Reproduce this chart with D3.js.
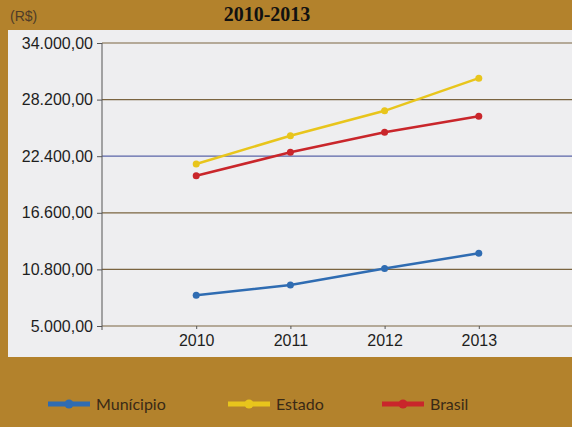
<!DOCTYPE html>
<html>
<head>
<meta charset="utf-8">
<script src="https://cdn.jsdelivr.net/npm/d3@7"></script>
<style>
  body { margin: 0; background: #b3822c; }
  svg { display: block; }
  .tick text { font-family: "Liberation Sans", Arial, sans-serif; font-size: 16px; fill: #1e1e1e; }
</style>
</head>
<body>
<div id="chart"></div>
<script>
// data
var years = [2010, 2011, 2012, 2013];
var municipio = [8150, 9200, 10900, 12450];
var estado = [21600, 24500, 27050, 30400];
var brasil = [20400, 22800, 24850, 26500];
var yTicks = [5000, 10800, 16600, 22400, 28200, 34000];
var seriesNames = ["Munícipio", "Estado", "Brasil"];
var seriesColors = ["#2f6cb2", "#e8c51c", "#c9262b"];

var w = 572;
var h = 427;

var svg = d3.select("#chart")
  .append("svg")
  .attr("width", w)
  .attr("height", h);

// title
svg.append("text")
  .attr("x", 267)
  .attr("y", 21)
  .attr("text-anchor", "middle")
  .attr("font-family", "Liberation Serif, Times New Roman, serif")
  .attr("font-weight", "bold")
  .attr("font-size", 20)
  .attr("fill", "#111")
  .text("2010-2013");

svg.append("text")
  .attr("x", 10)
  .attr("y", 21)
  .attr("font-family", "Liberation Sans, Arial, sans-serif")
  .attr("font-size", 14)
  .attr("fill", "#4e3c28")
  .text("(R$)");

// panel
svg.append("rect")
  .attr("x", 8)
  .attr("y", 30)
  .attr("width", 570)
  .attr("height", 327)
  .attr("fill", "#eeeef0");

var xScale = d3.scaleLinear()
  .domain([2009, 2014])
  .range([102, 573]);

var yScale = d3.scaleLinear()
  .domain([5000, 34000])
  .range([326, 43]);

// gridlines
svg.append("g")
  .selectAll("line")
  .data(yTicks)
  .enter()
  .append("line")
  .attr("x1", 102)
  .attr("x2", w)
  .attr("y1", function(d) { return yScale(d); })
  .attr("y2", function(d) { return yScale(d); })
  .attr("stroke", function(d) { return d == 22400 ? "#5a64a8" : "#7a6440"; })
  .attr("stroke-width", 1.2);

var yAxis = d3.axisLeft(yScale)
  .tickValues(yTicks)
  .tickSize(5)
  .tickPadding(4)
  .tickFormat(function(d) {
    return d3.format(",.2f")(d).replace(/,/g, "#").replace(".", ",").replace(/#/g, ".");
  });

var gy = svg.append("g")
  .attr("transform", "translate(102,0)")
  .call(yAxis);
gy.select(".domain").remove();
gy.selectAll(".tick line").attr("stroke", "#555");

svg.append("line")
  .attr("x1", 102).attr("x2", 102)
  .attr("y1", 43).attr("y2", 330)
  .attr("stroke", "#555")
  .attr("stroke-width", 1);

var xAxis = d3.axisBottom(xScale)
  .tickValues(years)
  .tickSize(3)
  .tickPadding(6)
  .tickFormat(d3.format("d"));

var gx = svg.append("g")
  .attr("transform", "translate(0,326)")
  .call(xAxis);
gx.select(".domain").remove();
gx.selectAll(".tick line").attr("stroke", "#555");

// lines
var allSeries = [municipio, estado, brasil];

var line = d3.line()
  .x(function(d, i) { return xScale(years[i]); })
  .y(function(d) { return yScale(d); });

allSeries.forEach(function(s, k) {
  svg.append("path")
    .datum(s)
    .attr("fill", "none")
    .attr("stroke", seriesColors[k])
    .attr("stroke-width", 2.5)
    .attr("d", line);

  svg.selectAll(".dot" + k)
    .data(s)
    .enter()
    .append("circle")
    .attr("cx", function(d, i) { return xScale(years[i]); })
    .attr("cy", function(d) { return yScale(d); })
    .attr("r", 3.5)
    .attr("fill", seriesColors[k]);
});

// legend
var legendX = [48, 228, 382];
var legend = svg.selectAll(".legend")
  .data(seriesNames)
  .enter()
  .append("g")
  .attr("transform", function(d, i) { return "translate(" + legendX[i] + ",404)"; });

legend.append("line")
  .attr("x1", 0).attr("x2", 42)
  .attr("stroke", function(d, i) { return seriesColors[i]; })
  .attr("stroke-width", 5);

legend.append("circle")
  .attr("cx", 21)
  .attr("r", 4.5)
  .attr("fill", function(d, i) { return seriesColors[i]; });

legend.append("text")
  .attr("x", 48)
  .attr("y", 6)
  .attr("font-family", "Lato, sans-serif")
  .attr("font-size", 16)
  .attr("fill", "#3a2a16")
  .text(function(d) { return d; });
</script>
</body>
</html>
